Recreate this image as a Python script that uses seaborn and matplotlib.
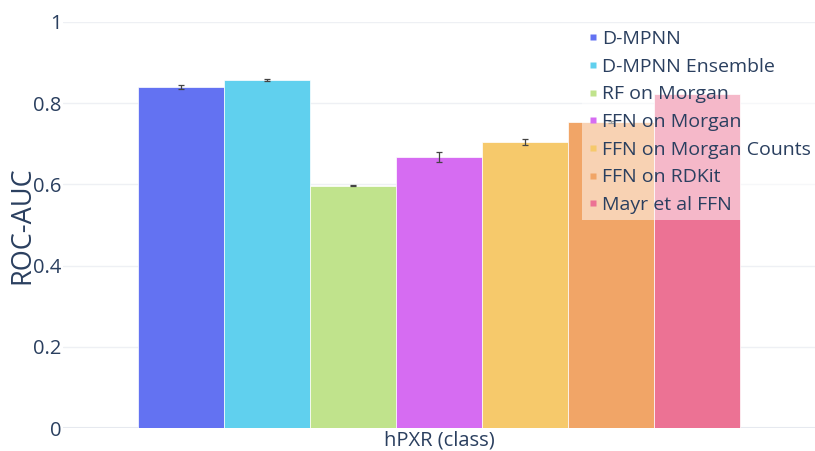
import numpy as np
import pandas as pd
import matplotlib
matplotlib.use("Agg")
import matplotlib.pyplot as plt
from matplotlib.lines import Line2D
import seaborn as sns

models = ['D-MPNN', 'D-MPNN Ensemble', 'RF on Morgan', 'FFN on Morgan',
          'FFN on Morgan Counts', 'FFN on RDKit', 'Mayr et al FFN']
roc_auc = [0.840, 0.857, 0.597, 0.668, 0.705, 0.754, 0.822]
roc_err = [0.004, 0.002, 0.002, 0.012, 0.008, 0.003, np.nan]
dataset = 'hPXR (class)'

colors = ['#6372F2', '#60D0EE', '#C0E38C', '#D66CF2', '#F6C96B', '#F1A567', '#EC7294']
txt = '#2a3f5f'

df = pd.DataFrame({'dataset': dataset, 'model': models, 'roc_auc': roc_auc})

sns.set_style('white')
plt.rcParams['font.family'] = ['Open Sans', 'DejaVu Sans']

fig = plt.figure(figsize=(8.15, 4.51), dpi=100)
ax = fig.add_axes([63 / 815, 23 / 451, 752 / 815, 406 / 451])

sns.barplot(data=df, x='dataset', y='roc_auc', hue='model', hue_order=models,
            palette=colors, errorbar=None, width=0.8, edgecolor='white',
            linewidth=0.5, saturation=1, legend=False, ax=ax, zorder=2)

# error bars on top of each bar
for cont, err in zip(ax.containers, roc_err):
    bar = cont[0]
    if np.isnan(err):
        continue
    ax.errorbar(bar.get_x() + bar.get_width() / 2, bar.get_height(), yerr=err,
                color='#444444', capsize=2.2, elinewidth=0.9, capthick=0.9, zorder=3)

ax.set_xlim(-0.5, 0.5)
ax.set_ylim(0, 1)
ax.set_yticks([0, 0.2, 0.4, 0.6, 0.8, 1])
ax.set_yticklabels(['0', '0.2', '0.4', '0.6', '0.8', '1'])
ax.yaxis.grid(True, color='#eef0f4', linewidth=1, zorder=0)
ax.axhline(0, color='#e6e9ef', linewidth=1.5, zorder=1)
ax.set_xlabel('')
ax.set_ylabel('ROC-AUC', fontsize=19.5, color=txt)
ax.yaxis.set_label_coords(-0.036, 0.5)
ax.tick_params(axis='both', length=0, labelsize=14.5, labelcolor=txt)
ax.tick_params(axis='y', pad=1)
ax.tick_params(axis='x', pad=2)
for s in ax.spines.values():
    s.set_visible(False)

handles = [Line2D([0], [0], marker='s', linestyle='none', markersize=5,
                  markerfacecolor=c, markeredgecolor='none') for c in colors]
leg = ax.legend(handles, models, loc='upper left', bbox_to_anchor=(0.69, 0.995),
                frameon=True, framealpha=0.5, fontsize=14, labelcolor=txt,
                handlelength=0.5, handletextpad=0.25, labelspacing=0.5,
                borderpad=0.3, borderaxespad=0)
leg.get_frame().set_edgecolor('none')
leg.get_frame().set_facecolor('white')
leg.get_frame().set_boxstyle('square', pad=0)
leg.set_zorder(5)

fig.savefig('out.png', dpi=100)
